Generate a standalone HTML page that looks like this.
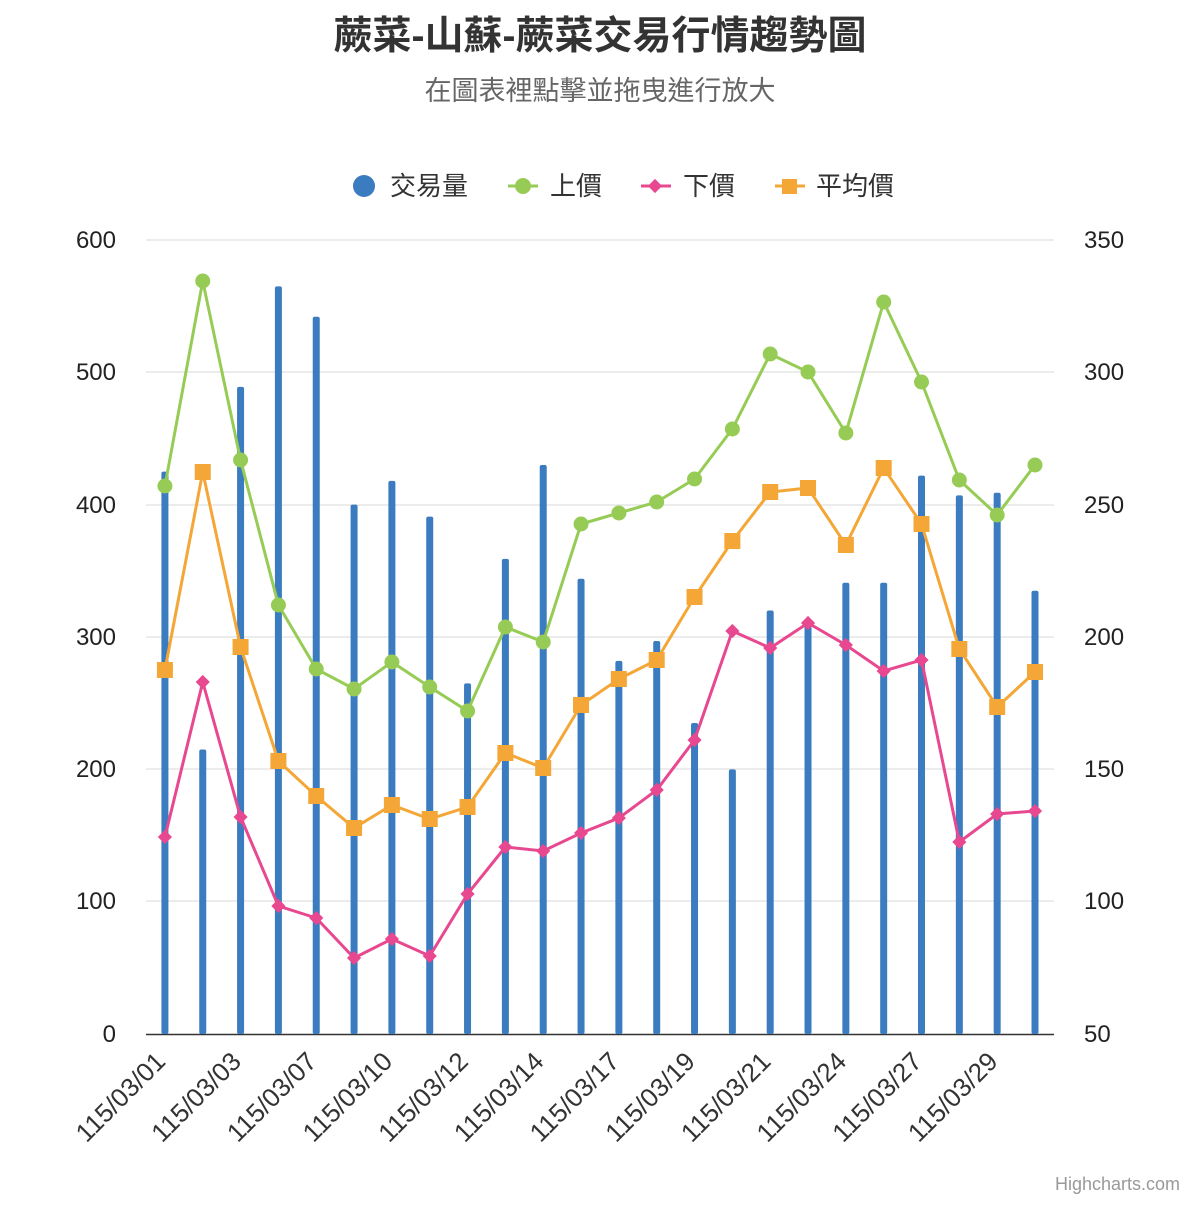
<!DOCTYPE html>
<html><head><meta charset="utf-8"><style>
body{margin:0;background:#fff}
svg text{font-family:"Liberation Sans","Noto Sans CJK TC",sans-serif}
</style></head><body>
<svg width="1200" height="1200" viewBox="0 0 1200 1200" xmlns="http://www.w3.org/2000/svg">
<rect width="1200" height="1200" fill="#fff"/>
<text x="600" y="49" text-anchor="middle" font-size="39" font-weight="bold" fill="#333">蕨菜-山蘇-蕨菜交易行情趨勢圖</text>
<text x="600" y="100" text-anchor="middle" font-size="27" fill="#666">在圖表裡點擊並拖曳進行放大</text>
<g font-size="26" fill="#333">
<circle cx="364" cy="186" r="11" fill="#3b7bbf"/><text x="390" y="195">交易量</text>
<line x1="508" y1="186" x2="538" y2="186" stroke="#96cc55" stroke-width="3"/><circle cx="523" cy="186" r="8" fill="#96cc55"/><text x="550" y="195">上價</text>
<line x1="641" y1="186" x2="671" y2="186" stroke="#e8488f" stroke-width="3"/><rect x="650" y="181" width="10" height="10" fill="#e8488f" transform="rotate(45 655 186)"/><text x="683" y="195">下價</text>
<line x1="775" y1="186" x2="805" y2="186" stroke="#f4a636" stroke-width="3"/><rect x="782" y="179" width="15" height="15" fill="#f4a636"/><text x="816" y="195">平均價</text>
</g>
<g stroke="#e6e6e6" stroke-width="1.5">
<line x1="146" y1="240" x2="1054" y2="240"/><line x1="146" y1="372" x2="1054" y2="372"/><line x1="146" y1="505" x2="1054" y2="505"/><line x1="146" y1="637" x2="1054" y2="637"/><line x1="146" y1="769" x2="1054" y2="769"/><line x1="146" y1="901" x2="1054" y2="901"/>
</g>
<line x1="146" y1="1034.5" x2="1054" y2="1034.5" stroke="#333" stroke-width="1.5"/>
<g font-size="24" fill="#222" text-anchor="end">
<text x="116" y="248">600</text><text x="116" y="380">500</text><text x="116" y="513">400</text><text x="116" y="645">300</text><text x="116" y="777">200</text><text x="116" y="909">100</text><text x="116" y="1042">0</text>
</g>
<g font-size="24" fill="#222">
<text x="1084" y="248">350</text><text x="1084" y="380">300</text><text x="1084" y="513">250</text><text x="1084" y="645">200</text><text x="1084" y="777">150</text><text x="1084" y="909">100</text><text x="1084" y="1042">50</text>
</g>
<g id="bars" fill="#3b7bbf"></g>
<polyline id="g" fill="none" stroke="#96cc55" stroke-width="3"/>
<polyline id="p" fill="none" stroke="#e8488f" stroke-width="3"/>
<polyline id="o" fill="none" stroke="#f4a636" stroke-width="3"/>
<g id="marks"></g>
<g id="xl" font-size="26" fill="#333" text-anchor="end"></g>
<text x="1180" y="1190" text-anchor="end" font-size="18" fill="#999">Highcharts.com</text>
</svg>
<script>
var NS="http://www.w3.org/2000/svg";
function X(i){return 146+37.83*(i+0.5);}
var bars=[425,215,489,565,542,400,418,391,265,359,430,344,282,297,235,200,320,310,341,341,422,407,409,335];
var G=[486,281,460,605,669,689,662,687,711,627,642,524,513,502,479,429,354,372,433,302,382,480,515,465];
var P=[837,682,817,906,918,958,939,956,894,847,851,833,818,790,740,631,648,623,645,671,660,842,814,811];
var O=[670,472,647,761,796,828,805,819,807,753,768,705,679,660,597,541,492,488,545,468,524,649,707,672];
var b=document.getElementById("bars"),m=document.getElementById("marks");
function el(t,a,p){var e=document.createElementNS(NS,t);for(var k in a)e.setAttribute(k,a[k]);p.appendChild(e);return e;}
bars.forEach(function(v,i){var h=v*1.3233;el("rect",{x:X(i)-3.5,y:1034-h,width:7,height:h,rx:2},b);});
function pts(a){return a.map(function(y,i){return X(i)+","+y}).join(" ");}
document.getElementById("g").setAttribute("points",pts(G));
document.getElementById("p").setAttribute("points",pts(P));
document.getElementById("o").setAttribute("points",pts(O));
G.forEach(function(y,i){el("circle",{cx:X(i),cy:y,r:7.5,fill:"#96cc55"},m);});
P.forEach(function(y,i){el("rect",{x:X(i)-5,y:y-5,width:10,height:10,fill:"#e8488f",transform:"rotate(45 "+X(i)+" "+y+")"},m);});
O.forEach(function(y,i){el("rect",{x:X(i)-8,y:y-8,width:16,height:16,fill:"#f4a636"},m);});
var L=["01","03","07","10","12","14","17","19","21","24","27","29"],xl=document.getElementById("xl");
L.forEach(function(d,k){var x=X(2*k)+2,y=1063;var t=el("text",{x:x,y:y,transform:"rotate(-45 "+x+" "+y+")"},xl);t.textContent="115/03/"+d;});
</script>
</body></html>
